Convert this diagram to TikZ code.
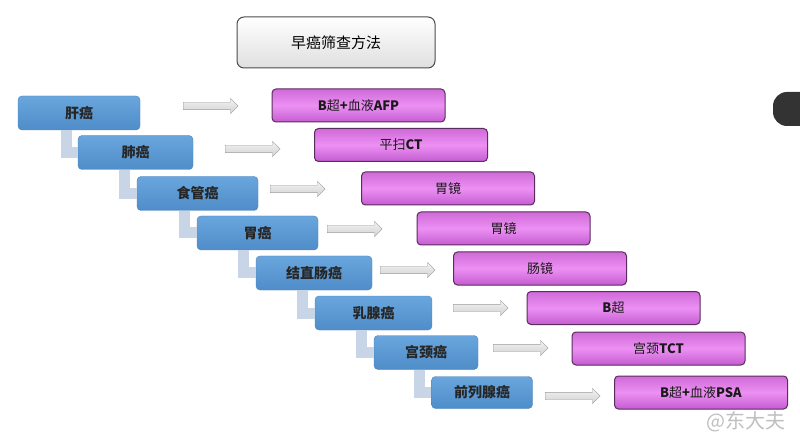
\documentclass[tikz,border=0pt]{standalone}
\usepackage{fontspec}
\setmainfont{Noto Sans CJK SC}
\usetikzlibrary{shapes.arrows}
\definecolor{bluetop}{HTML}{6AA6DD}
\definecolor{bluebot}{HTML}{4F8DC9}
\definecolor{blueline}{HTML}{4A84BC}
\definecolor{pinktop}{HTML}{CF6AD8}
\definecolor{pinkmid}{HTML}{EC90F3}
\definecolor{pinkbot}{HTML}{C45CD0}
\definecolor{pinkline}{HTML}{5A2D5E}
\definecolor{linkgray}{HTML}{C8D5E6}
\definecolor{arrowline}{HTML}{9A9A9A}

\begin{document}
\begin{tikzpicture}[x=1pt,y=-1pt,
  cancer/.style={rectangle,rounded corners=4pt,draw=blueline,top color=bluetop,bottom color=bluebot,minimum height=34pt,font=\fontsize{14}{16}\selectfont\bfseries,text=black!85},
  exam/.style={rectangle,rounded corners=4pt,draw=pinkline,line width=1pt,top color=pinktop,bottom color=pinkbot,middle color=pinkmid,minimum width=173pt,minimum height=33pt,font=\fontsize{13}{15}\selectfont,text=black!90},
  hollow/.style={single arrow,draw=arrowline,top color=gray!10,bottom color=gray!35,minimum height=55pt,minimum width=15pt,inner sep=3.5pt,single arrow head extend=4pt,anchor=west},
  link/.style={draw=linkgray,line width=11pt}]
\useasboundingbox (0,0) rectangle (800,438);
\fill[white] (0,0) rectangle (800,438);

\node [rectangle,rounded corners=7pt,draw=black!70,line width=1pt,top color=white,bottom color=gray!25,minimum width=198pt,minimum height=51pt,font=\fontsize{15}{17}\selectfont] (title) at (336,42.5) {早癌筛查方法};

\node [cancer,minimum width=122pt] (gan) at (79,113) {肝癌};
\node [cancer,minimum width=115pt] (fei) at (135.5,152.5) {肺癌};
\node [cancer,minimum width=121pt] (shiguan) at (197.5,193.5) {食管癌};
\node [cancer,minimum width=121pt] (wei) at (257.5,233) {胃癌};
\node [cancer,minimum width=116pt] (chang) at (314,273) {结直肠癌};
\node [cancer,minimum width=117pt] (ru) at (373.5,313) {乳腺癌};
\node [cancer,minimum width=104pt] (gong) at (426,352.5) {宫颈癌};
\node [cancer,minimum width=101pt,minimum height=32pt] (qian) at (482,392.5) {前列腺癌};

\draw [link] ([xshift=-11pt]fei.west |- gan.south) |- (fei.west);
\draw [link] ([xshift=-12pt]shiguan.west |- fei.south) |- (shiguan.west);
\draw [link] ([xshift=-12pt]wei.west |- shiguan.south) |- (wei.west);
\draw [link] ([xshift=-12pt]chang.west |- wei.south) |- (chang.west);
\draw [link] ([xshift=-12pt]ru.west |- chang.south) |- (ru.west);
\draw [link] ([xshift=-12pt]gong.west |- ru.south) |- (gong.west);
\draw [link] ([xshift=-12pt]qian.west |- gong.south) |- (qian.west);

\node [hollow] (a1) at (183,106) {};
\node [hollow] (a2) at (225,149) {};
\node [hollow] (a3) at (270,189) {};
\node [hollow] (a4) at (327,229) {};
\node [hollow] (a5) at (380,270) {};
\node [hollow] (a6) at (453,308) {};
\node [hollow] (a7) at (493,348) {};
\node [hollow] (a8) at (545,396) {};

\node [exam] (t1) at (358.5,105.5) {\textbf{B}超\textbf{+}血液\textbf{AFP}};
\node [exam] (t2) at (401,145) {平扫\textbf{CT}};
\node [exam] (t3) at (448,188.5) {胃镜};
\node [exam] (t4) at (503.5,228.5) {胃镜};
\node [exam] (t5) at (540,268.5) {肠镜};
\node [exam] (t6) at (613.5,308) {\textbf{B}超};
\node [exam] (t7) at (658.5,348.5) {宫颈\textbf{TCT}};
\node [exam] (t8) at (701,392.5) {\textbf{B}超\textbf{+}血液\textbf{PSA}};

\fill [black!80,rounded corners=14pt] (773,92) rectangle (815,126);
\node [font=\fontsize{20}{22}\selectfont,text=gray!50] (mark) at (746,422) {@东大夫};
\end{tikzpicture}
\end{document}
